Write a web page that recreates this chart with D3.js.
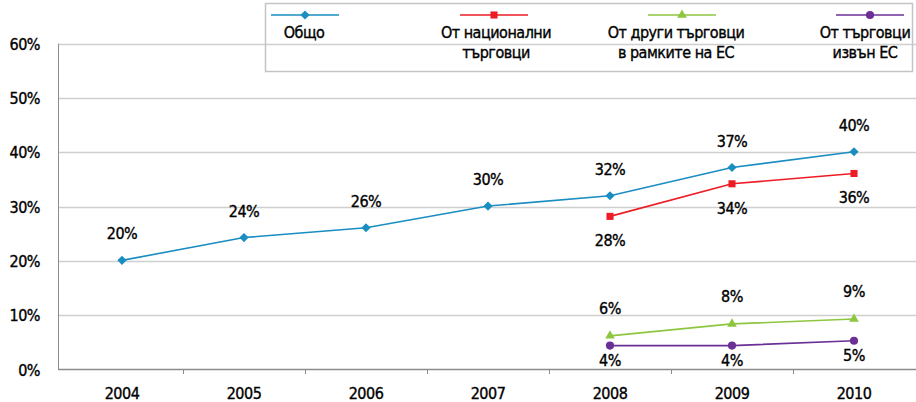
<!DOCTYPE html>
<html>
<head>
<meta charset="utf-8">
<script src="https://cdn.jsdelivr.net/npm/d3@7"></script>
<style>
    body { margin: 0; background: #fff; }
    svg text { font-family: "DejaVu Sans Condensed", "Liberation Sans Narrow", "Roboto", sans-serif; fill: #000; font-size: 16px; letter-spacing: -0.5px; stroke: #000; stroke-width: 0.35px; }
    .grid line { stroke: #cfcfcf; stroke-width: 1.5; }
</style>
</head>
<body>
<script>
//chart data
var years = ["2004", "2005", "2006", "2007", "2008", "2009", "2010"];
var yTicks = [0, 10, 20, 30, 40, 50, 60];

var total = [20.1, 24.3, 26.1, 30.1, 32.0, 37.2, 40.1];
var national = [null, null, null, null, 28.2, 34.2, 36.1];
var otherEU = [null, null, null, null, 6.2, 8.4, 9.3];
var nonEU = [null, null, null, null, 4.4, 4.4, 5.3];

var totalLabels = ["20%", "24%", "26%", "30%", "32%", "37%", "40%"];
var nationalLabels = [null, null, null, null, "28%", "34%", "36%"];
var otherEULabels = [null, null, null, null, "6%", "8%", "9%"];
var nonEULabels = [null, null, null, null, "4%", "4%", "5%"];

var seriesNames = [["Общо"], ["От национални", "търговци"], ["От други търговци", "в рамките на ЕС"], ["От търговци", "извън ЕС"]];

window.onload = drawChart();

function drawChart(){

    var width = 916,
        height = 402;

    var svg = d3.select("body")
        .append("svg")
        .attr("width", width)
        .attr("height", height);

    var x = d3.scaleBand()
        .domain(years)
        .range([61, 915]);

    var y = d3.scaleLinear()
        .domain([0, 60])
        .range([369.5, 43.7]);

    //series definitions (rotate: diamond is a square turned 45 degrees)
    var series = [
        { values: total, labels: totalLabels, color: "#1a8dc1", marker: d3.symbolSquare, size: 42, rotate: 45, labelDy: -21 },
        { values: national, labels: nationalLabels, color: "#ed1c24", marker: d3.symbolSquare, size: 50, rotate: 0, labelDy: 30 },
        { values: otherEU, labels: otherEULabels, color: "#8dc63f", marker: d3.symbolTriangle, size: 40, rotate: 0, labelDy: -22 },
        { values: nonEU, labels: nonEULabels, color: "#6a3096", marker: d3.symbolCircle, size: 52, rotate: 0, labelDy: 20 }
    ];

    //horizontal gridlines
    svg.append("g")
        .attr("class", "grid")
        .selectAll("line")
        .data(yTicks.slice(1))
        .enter()
        .append("line")
        .attr("x1", 58)
        .attr("x2", 916)
        .attr("y1", function(d){ return Math.round(y(d)) + 0.5; })
        .attr("y2", function(d){ return Math.round(y(d)) + 0.5; });

    //y axis line and labels
    svg.append("line")
        .attr("x1", 58.5).attr("x2", 58.5)
        .attr("y1", y(60)).attr("y2", y(0))
        .attr("stroke", "#8c8c8c");

    svg.selectAll(".ylab")
        .data(yTicks)
        .enter()
        .append("text")
        .attr("class", "ylab")
        .attr("x", 40)
        .attr("y", function(d){ return y(d) + 6; })
        .attr("text-anchor", "end")
        .text(function(d){ return d + "%"; });

    //x axis with ticks between categories
    svg.append("line")
        .attr("x1", 58).attr("x2", 916)
        .attr("y1", 369.5).attr("y2", 369.5)
        .attr("stroke", "#8c8c8c")
        .attr("stroke-width", 1.5);

    svg.selectAll(".xtick")
        .data(years.slice(1))
        .enter()
        .append("line")
        .attr("class", "xtick")
        .attr("x1", function(d){ return Math.round(x(d)) + 0.5; })
        .attr("x2", function(d){ return Math.round(x(d)) + 0.5; })
        .attr("y1", 369.5)
        .attr("y2", 374)
        .attr("stroke", "#8c8c8c");

    svg.selectAll(".xlab")
        .data(years)
        .enter()
        .append("text")
        .attr("class", "xlab")
        .attr("x", function(d){ return x(d) + x.bandwidth() / 2; })
        .attr("y", 399)
        .attr("text-anchor", "middle")
        .text(function(d){ return d; });

    var cx = function(i){ return x(years[i]) + x.bandwidth() / 2; };

    //lines, markers, labels
    series.forEach(function(s){
        var pts = s.values.map(function(v, i){ return { i: i, v: v, label: s.labels[i] }; })
            .filter(function(p){ return p.v !== null; });

        var line = d3.line()
            .x(function(p){ return cx(p.i); })
            .y(function(p){ return y(p.v); });

        svg.append("path")
            .datum(pts)
            .attr("d", line)
            .attr("fill", "none")
            .attr("stroke", s.color)
            .attr("stroke-width", 1.6);

        svg.selectAll(null)
            .data(pts)
            .enter()
            .append("path")
            .attr("d", d3.symbol().type(s.marker).size(s.size))
            .attr("transform", function(p){ return "translate(" + cx(p.i) + "," + y(p.v) + ") rotate(" + s.rotate + ")"; })
            .attr("fill", s.color);

        svg.selectAll(null)
            .data(pts)
            .enter()
            .append("text")
            .attr("x", function(p){ return cx(p.i); })
            .attr("y", function(p){ return y(p.v) + s.labelDy; })
            .attr("text-anchor", "middle")
            .text(function(p){ return p.label; });
    });

    //legend box
    svg.append("rect")
        .attr("x", 265.5).attr("y", 3.5)
        .attr("width", 647).attr("height", 68)
        .attr("fill", "none")
        .attr("stroke", "#c4c4c4")
        .attr("stroke-width", 1.5);

    var legendX = [305, 494, 682, 870],
        legendTextX = [304, 496, 676, 865];

    series.forEach(function(s, k){
        var g = svg.append("g")
            .attr("transform", "translate(" + legendX[k] + ",15)");
        g.append("line")
            .attr("x1", -34).attr("x2", 34)
            .attr("stroke", s.color)
            .attr("stroke-width", 1.6);
        g.append("path")
            .attr("d", d3.symbol().type(s.marker).size(s.size))
            .attr("transform", "rotate(" + s.rotate + ")")
            .attr("fill", s.color);
        g.selectAll("text")
            .data(seriesNames[k])
            .enter()
            .append("text")
            .attr("x", legendTextX[k] - legendX[k])
            .attr("y", function(d, j){ return 23 + j * 20; })
            .attr("text-anchor", "middle")
            .text(function(d){ return d; });
    });
};
</script>
</body>
</html>
